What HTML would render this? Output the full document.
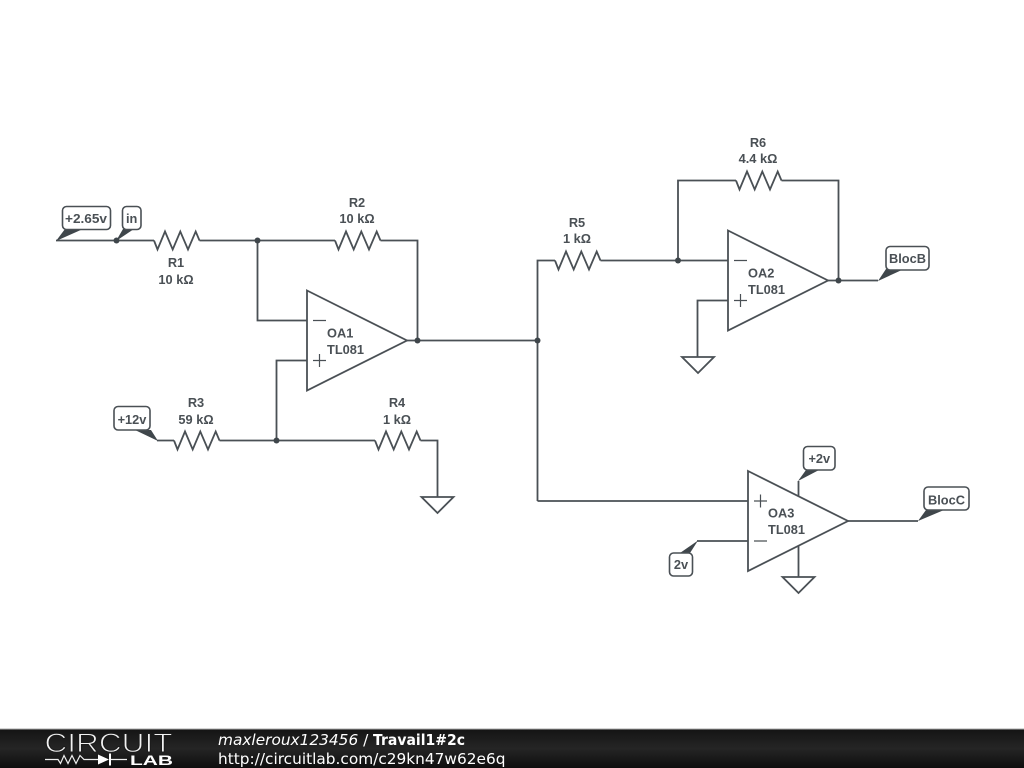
<!DOCTYPE html>
<html>
<head>
<meta charset="utf-8">
<style>
html,body{margin:0;padding:0;background:#fff;width:1024px;height:768px;overflow:hidden}
svg{display:block}
.w{fill:none;stroke:#4a5055;stroke-width:1.8;stroke-linejoin:miter}
.s{fill:none;stroke:#4a5055;stroke-width:1.2}
.t{font-family:"Liberation Sans",sans-serif;font-size:12.8px;font-weight:bold;fill:#4a5055;text-anchor:middle}
.l{text-anchor:start}
.f{fill:#fff;stroke:#4a5055;stroke-width:1.6}
.tail{fill:#3f464b;stroke:none}
.d{fill:#3f464b}
.b{font-family:"DejaVu Sans",sans-serif;font-size:15.35px;fill:#fff}
</style>
</head>
<body>
<svg width="1024" height="768" viewBox="0 0 1024 768" xmlns="http://www.w3.org/2000/svg">
<defs>
<linearGradient id="g" x1="0" y1="0" x2="0" y2="1">
<stop offset="0" stop-color="#141414"/><stop offset="0.5" stop-color="#252525"/><stop offset="1" stop-color="#0e0e0e"/>
</linearGradient>
<path id="r" d="M0 0L3.500 9L11 -9L18.700 9L26.300 -9L34 9L41.700 -9L45.500 0" fill="none" stroke="#4a5055" stroke-width="1.800"/>
</defs>
<rect width="1024" height="768" fill="#fff"/>

<!-- wires -->
<path class="w" d="M56 240.500H154M199.500 240.500H335M380.500 240.500H417.500V340.500M257.500 240.500V320.500H307"/>
<path class="w" d="M307 360.500H276.500V440.500M157 440.500H174M219.500 440.500H375M420.500 440.500H437.500V497"/>
<path class="w" d="M407 340.500H537.500M537.500 501V260.500H555M600.500 260.500H728M678 260.500V180.500H736M781.500 180.500H838.500V280.500"/>
<path class="w" d="M828 280.500H878M728 300.500H697.500V357"/>
<path class="w" d="M537.500 501H748M848 521H918M748 541H697M798.500 481V496M798.500 546V577"/>

<!-- resistors -->
<use href="#r" x="154" y="240.500"/>
<use href="#r" x="335" y="240.500"/>
<use href="#r" x="174" y="440.500"/>
<use href="#r" x="375" y="440.500"/>
<use href="#r" x="555" y="260.500"/>
<use href="#r" x="736" y="180.500"/>

<!-- junctions -->
<circle class="d" cx="116.500" cy="240.500" r="3"/>
<circle class="d" cx="257.500" cy="240.500" r="3"/>
<circle class="d" cx="276.500" cy="440.500" r="3"/>
<circle class="d" cx="417.500" cy="340.500" r="3"/>
<circle class="d" cx="537.500" cy="340.500" r="3"/>
<circle class="d" cx="678" cy="260.500" r="3"/>
<circle class="d" cx="838.500" cy="280.500" r="3"/>

<!-- op-amps -->
<path class="w" d="M307 290.500L407 340.500L307 390.500Z"/>
<path class="s" d="M313 320.500H326M313 360.500H326M319.500 354V367"/>
<path class="w" d="M728 230.500L828 280.500L728 330.500Z"/>
<path class="s" d="M734 260.500H747M734 300.500H747M740.500 294V307"/>
<path class="w" d="M748 471L848 521L748 571Z"/>
<path class="s" d="M754 501H767M754 541H767M760.500 494.500V507.500"/>

<!-- grounds -->
<path class="w" d="M421.500 497H453.500L437.500 513Z"/>
<path class="w" d="M682 357H714L698 373Z"/>
<path class="w" d="M782.500 577H814.500L798.500 593Z"/>

<!-- flags -->
<path class="tail" d="M56 241L65 229H83Z"/>
<rect class="f" x="62.500" y="206.500" width="48" height="23" rx="4"/>
<text class="t" x="86" y="223" textLength="42" lengthAdjust="spacingAndGlyphs">+2.65v</text>

<path class="tail" d="M116 241L123 229H134Z"/>
<rect class="f" x="122.500" y="206.500" width="18.500" height="23" rx="4"/>
<text class="t" x="131.700" y="223">in</text>

<path class="tail" d="M158 441L135 430H151Z"/>
<rect class="f" x="114" y="406.500" width="36" height="23.500" rx="4"/>
<text class="t" x="132" y="424">+12v</text>

<path class="tail" d="M878 281L886 269H904Z"/>
<rect class="f" x="886" y="246.500" width="43" height="23.500" rx="4"/>
<text class="t" x="907.500" y="263">BlocB</text>

<path class="tail" d="M918 521L926 510H944Z"/>
<rect class="f" x="924" y="487" width="45" height="23" rx="4"/>
<text class="t" x="946.500" y="504.500">BlocC</text>

<path class="tail" d="M798 481L806 470H819Z"/>
<rect class="f" x="803.500" y="446.500" width="31.500" height="23.500" rx="4"/>
<text class="t" x="819.300" y="463">+2v</text>

<path class="tail" d="M698 540.500L680 553H690Z"/>
<rect class="f" x="669.500" y="553" width="23" height="23" rx="4"/>
<text class="t" x="681" y="569">2v</text>

<!-- labels -->
<text class="t" x="176" y="267">R1</text><text class="t" x="176" y="284">10 kΩ</text>
<text class="t" x="357" y="207">R2</text><text class="t" x="357" y="223">10 kΩ</text>
<text class="t" x="196" y="407">R3</text><text class="t" x="196" y="424">59 kΩ</text>
<text class="t" x="397" y="407">R4</text><text class="t" x="397" y="424">1 kΩ</text>
<text class="t" x="577" y="227">R5</text><text class="t" x="577" y="243">1 kΩ</text>
<text class="t" x="758" y="147">R6</text><text class="t" x="758" y="163">4.4 kΩ</text>
<text class="t l" x="327" y="337.500">OA1</text><text class="t l" x="327" y="354">TL081</text>
<text class="t l" x="748" y="277.500">OA2</text><text class="t l" x="748" y="294">TL081</text>
<text class="t l" x="768" y="517.500">OA3</text><text class="t l" x="768" y="534">TL081</text>

<!-- footer -->
<rect x="0" y="729" width="1024" height="39" fill="url(#g)"/>
<rect x="0" y="728.500" width="1024" height="1" fill="#aaa"/>
<text x="44.500" y="752" font-family="Liberation Sans, sans-serif" font-size="27" fill="#f2f2f2" stroke="#1c1c1c" stroke-width="1" paint-order="fill" textLength="128" lengthAdjust="spacingAndGlyphs">CIRCUIT</text>
<text x="130" y="765" font-family="Liberation Sans, sans-serif" font-size="13.500" font-weight="bold" fill="#fff" textLength="43" lengthAdjust="spacingAndGlyphs">LAB</text>
<path d="M45 759.500H58L60.500 763.500L64 755.500L68 763.500L72 755.500L76 763.500L80 755.500L84 759.500H98M110 759.500H127" fill="none" stroke="#eee" stroke-width="1.200"/>
<path d="M98 754.500L109 759.500L98 764.500Z" fill="#fff"/>
<path d="M110 753.500V765.500" stroke="#fff" stroke-width="2"/>
<text class="b" x="218" y="745"><tspan font-style="italic">maxleroux123456</tspan> /</text>
<text class="b" x="373" y="745" font-weight="bold" textLength="92" lengthAdjust="spacingAndGlyphs">Travail1#2c</text>
<text class="b" x="218" y="764">http://circuitlab.com/c29kn47w62e6q</text>
</svg>
</body>
</html>
